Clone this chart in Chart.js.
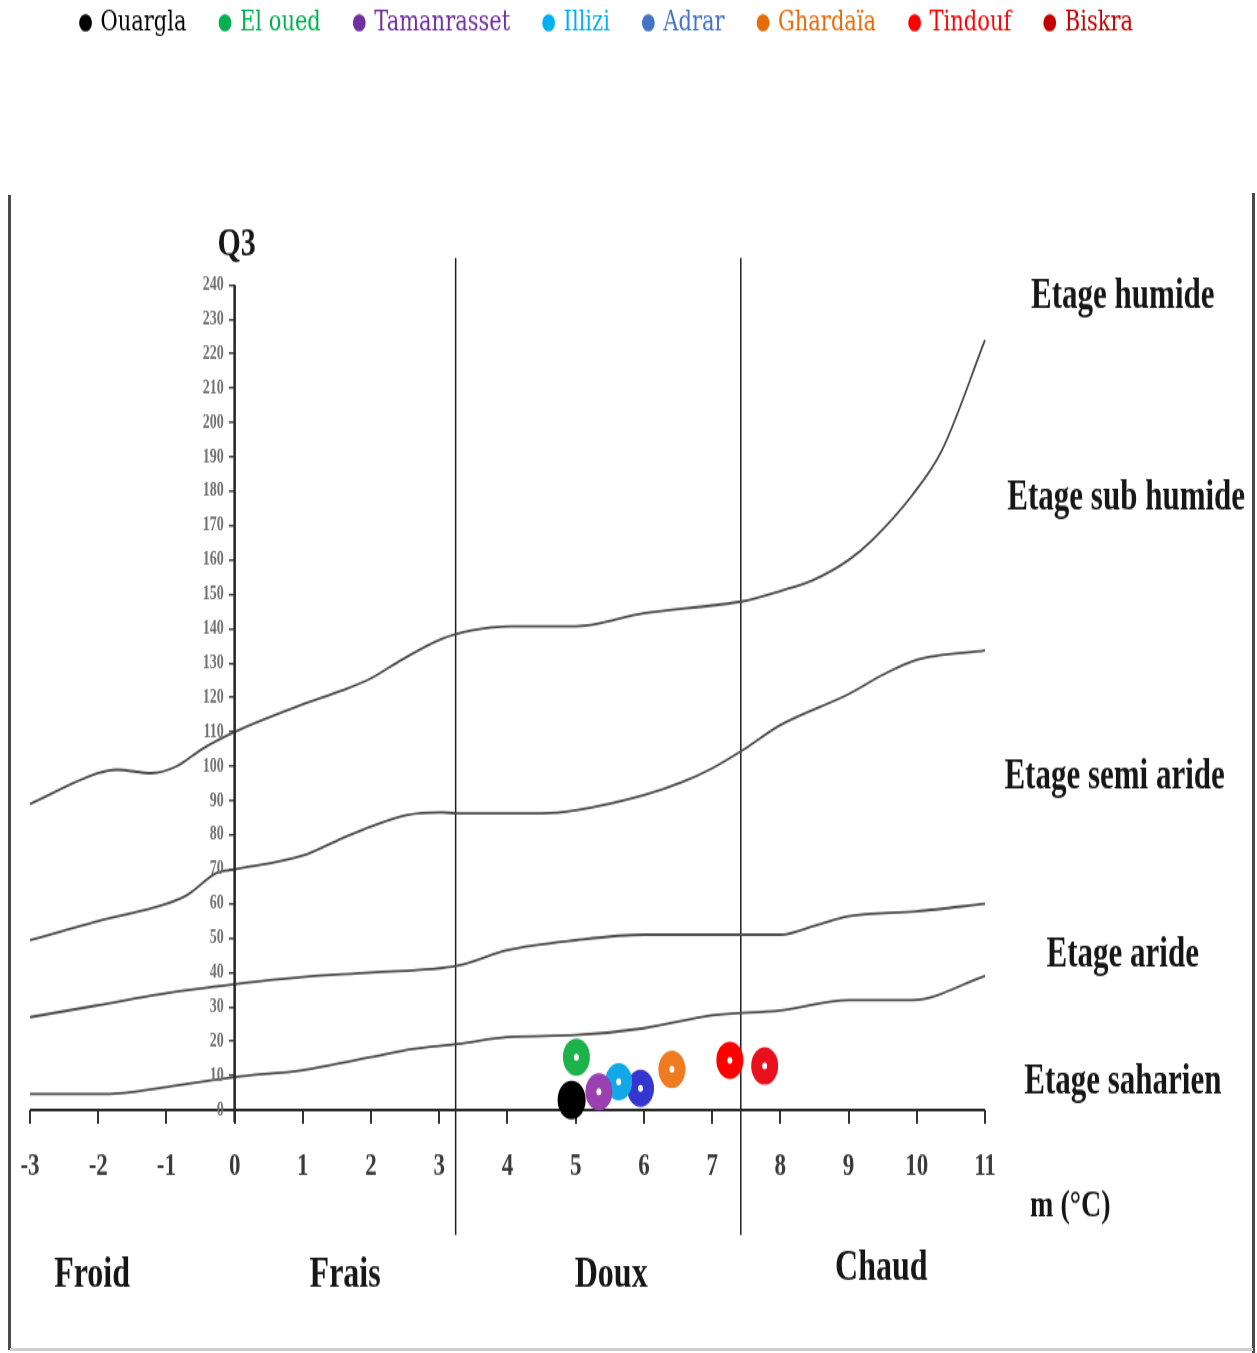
<!DOCTYPE html>
<html>
<head>
<meta charset="utf-8">
<title>Climagramme d'Emberger</title>
<script src="https://cdn.jsdelivr.net/npm/chart.js@4/dist/chart.umd.min.js"></script>
<style>
  html, body { margin: 0; padding: 0; background: #fff; }
  #wrap { position: relative; width: 1257px; height: 1353px; overflow: hidden; background: #fff; }
  /* the drawing is stretched vertically, giving the tall narrow lettering of the figure */
  #stretch { position: absolute; left: 0; top: 0; width: 1257px; height: 980px;
             transform: scaleY(1.380612); transform-origin: 0 0; }
  .frame { position: absolute; }
</style>
</head>
<body>
<div id="wrap">
  <div id="stretch"><canvas id="c" width="1257" height="980"></canvas></div>
  <div class="frame" style="left:8px;top:195px;width:3px;height:1155px;background:#4a4a4a"></div>
  <div class="frame" style="left:1252px;top:193px;width:3px;height:1160px;background:#4a4a4a"></div>
  <div class="frame" style="left:10px;top:1348px;width:1243px;height:3px;background:#cfcfcf"></div>
</div>
<script>
// ---- stations: m (°C) and Q3 ----
const stations = ['Ouargla', 'El oued', 'Tamanrasset', 'Illizi', 'Adrar', 'Ghardaïa', 'Tindouf', 'Biskra'];
const stationM  = [4.94, 5.01, 5.34, 5.63, 5.95, 6.41, 7.26, 7.77];
const stationQ3 = [2.9, 15.4, 5.3, 8.2, 6.3, 11.8, 14.5, 12.8];

// ---- limits between bioclimatic stages ----
const humideM  = [-3, -2, -1.73, -1.22, -0.85, -0.48, 0, 1, 1.57, 2, 2.45, 3.03, 3.47, 4.06, 5, 6, 7, 7.45, 8, 8.46, 9, 9.34, 9.93, 10.37, 11];
const humideQ3 = [89, 98, 99, 98, 100, 105, 110, 118, 122, 125.6, 131, 137, 139.5, 140.7, 140.7, 144.5, 146.8, 148, 151, 154, 160, 165.7, 178.8, 192, 224];

const subHumideM  = [-3, -2, -1, -0.7, -0.26, 0, 1, 1.57, 2, 2.52, 3.03, 3.27, 4.5, 5, 6, 6.55, 7, 7.45, 8, 9, 9.49, 10, 11];
const subHumideQ3 = [49.4, 55, 60, 62.5, 69, 70, 74, 79, 82.5, 85.8, 86.6, 86.3, 86.3, 87.2, 91.6, 95.3, 99.4, 104.7, 112, 121, 126.5, 131, 133.7];

const semiArideM  = [-3, -2, -1, 0, 1, 2, 3.27, 4, 5, 6, 7, 8, 8.53, 9, 10, 11];
const semiArideQ3 = [27, 30.5, 34, 36.6, 38.7, 40, 42, 46.5, 49.4, 51, 51, 51, 53.8, 56.4, 57.8, 60];

const arideM  = [-3, -1.88, -1, 0, 1, 2, 2.6, 3.27, 4, 5, 6, 7, 8, 9, 9.93, 11];
const arideQ3 = [4.7, 4.7, 6.7, 9.6, 11.6, 15.4, 17.7, 19.2, 21.2, 21.8, 23.8, 27.6, 29, 32, 32, 39];

// ---- thermal variants (Froid / Frais / Doux / Chaud) ----
const variantLimits = [3.24, 7.42];
const variantLineQ3 = [-36.4, 247.9];

// ---- axes ----
const xTickValues = [-3, -2, -1, 0, 1, 2, 3, 4, 5, 6, 7, 8, 9, 10, 11];
const yTickValues = [0, 10, 20, 30, 40, 50, 60, 70, 80, 90, 100, 110, 120, 130, 140, 150, 160, 170, 180, 190, 200, 210, 220, 230, 240];
const xAxisExtent = [-3, 11];
const yAxisExtent = [-3.5, 240];

// ---- text labels: [text, m, Q3] ----
const stageLabels = [
  ['Etage humide', 13.02, 236.5],
  ['Etage sub humide', 13.07, 178],
  ['Etage semi aride', 12.9, 96.9],
  ['Etage aride', 13.02, 44.8],
  ['Etage saharien', 13.02, 8.1]
];
const variantLabels = [
  ['Froid', -2.09, -48],
  ['Frais', 1.62, -48],
  ['Doux', 5.52, -48],
  ['Chaud', 9.48, -46]
];
const axisTitles = [
  ['Q3', 0.03, 251.6],
  ['m (°C)', 12.25, -28.2]
];

// ---- styles ----
const pointColors  = ['#000000', '#1db34a', '#9b40b0', '#12a8e8', '#3535d0', '#f07a20', '#ff0000', '#e8101c'];
const legendColors = ['#000000', '#00b050', '#7030a0', '#00b0f0', '#4472c4', '#e46c0a', '#ff0000', '#c00000'];
const curveColor = '#4d4d4d';
const S = 1353 / 980;

const xy = (xs, ys) => xs.map((x, i) => ({ x: x, y: ys[i] }));

const datasets = [];
stations.forEach((name, i) => {
  const solid = i === 0;
  datasets.push({
    label: name,
    data: [{ x: stationM[i], y: stationQ3[i] }],
    showLine: false,
    pointStyle: 'circle',
    pointRadius: solid ? 9 : 8,
    pointBorderWidth: solid ? 10 : 11,
    pointBackgroundColor: solid ? pointColors[i] : '#ffffff',
    pointBorderColor: pointColors[i],
    order: 1
  });
});

function curve(label, xs, ys) {
  return {
    label: label, data: xy(xs, ys), showLine: true, borderColor: curveColor,
    borderWidth: 1.8, pointRadius: 0, cubicInterpolationMode: 'monotone', fill: false, order: 5
  };
}
datasets.push(curve('humide', humideM, humideQ3));
datasets.push(curve('subhumide', subHumideM, subHumideQ3));
datasets.push(curve('semiaride', semiArideM, semiArideQ3));
datasets.push(curve('aride', arideM, arideQ3));

variantLimits.forEach((m, k) => {
  datasets.push({
    label: 'variante' + k, data: variantLineQ3.map(q => ({ x: m, y: q })), showLine: true,
    borderColor: '#1e1e1e', borderWidth: 1.5, pointRadius: 0, order: 6
  });
});
datasets.push({
  label: 'axeX', data: xAxisExtent.map(m => ({ x: m, y: 0 })), showLine: true,
  borderColor: '#2a2a2a', borderWidth: 2.2, pointRadius: 0, order: 4
});
datasets.push({
  label: 'axeY', data: yAxisExtent.map(q => ({ x: 0, y: q })), showLine: true,
  borderColor: '#2a2a2a', borderWidth: 2.6, pointRadius: 0, order: 4
});

const textPlugin = {
  id: 'textLabels',
  afterDraw(chart) {
    const { ctx, scales } = chart;
    const put = (list, font) => {
      ctx.save();
      ctx.font = font;
      ctx.fillStyle = '#161616';
      ctx.textAlign = 'center';
      ctx.textBaseline = 'middle';
      list.forEach(([t, m, q]) => ctx.fillText(t, scales.x.getPixelForValue(m), scales.y.getPixelForValue(q)));
      ctx.restore();
    };
    put(stageLabels, 'bold 31px "Liberation Serif"');
    put(variantLabels, 'bold 32px "Liberation Serif"');
    put([axisTitles[0]], 'bold 30px "Liberation Serif"');
    put([axisTitles[1]], 'bold 28px "Liberation Serif"');

    // Q3 tick labels, set to the left of the tick marks of the axis at m = 0
    const axisX = scales.x.getPixelForValue(0);
    ctx.save();
    ctx.font = 'bold 14px "Liberation Serif"';
    ctx.fillStyle = '#707070';
    ctx.textAlign = 'right';
    ctx.textBaseline = 'middle';
    scales.y.ticks.forEach(t => ctx.fillText(String(t.value), axisX - 11, scales.y.getPixelForValue(t.value)));
    ctx.restore();
  }
};

const chart = new Chart(document.getElementById('c'), {
  type: 'scatter',
  data: { datasets: datasets },
  plugins: [textPlugin],
  options: {
    responsive: false,
    animation: false,
    events: [],
    layout: { padding: { top: -28, left: 0, right: 43, bottom: 0 } },
    plugins: {
      tooltip: { enabled: false },
      legend: {
        display: true,
        position: 'top',
        align: 'center',
        labels: {
          usePointStyle: true,
          boxWidth: 9,
          boxHeight: 9,
          padding: 34,
          font: { family: '"DejaVu Serif"', size: 21 },
          generateLabels: () => stations.map((name, i) => ({
            text: name, fillStyle: legendColors[i], strokeStyle: legendColors[i], lineWidth: 0,
            pointStyle: 'circle', fontColor: legendColors[i], hidden: false, datasetIndex: i
          }))
        }
      }
    },
    scales: {
      x: {
        type: 'linear', min: -3.44, max: 14.36, position: { y: 0 },
        afterBuildTicks: ax => { ax.ticks = xTickValues.map(v => ({ value: v })); },
        ticks: { font: { family: '"Liberation Serif"', size: 23, weight: 'bold' }, color: '#3a3a3a', padding: 17,
                 autoSkip: false, maxRotation: 0, callback: v => String(v) },
        grid: { display: true, drawOnChartArea: false, drawTicks: true, tickLength: 10, color: '#333', lineWidth: 2 },
        border: { display: false }
      },
      y: {
        type: 'linear', min: -40, max: 300, position: { x: 0 },
        afterBuildTicks: ax => { ax.ticks = yTickValues.map(v => ({ value: v })); },
        ticks: { display: false },
        grid: { display: true, drawOnChartArea: false, drawTicks: true, tickLength: 6, color: '#444', lineWidth: 1.5 },
        border: { display: false }
      }
    }
  }
});

// anchor the value scales to the figure frame: m=-3 / 11 and Q3=0 / 240
function anchorScales() {
  const a = chart.chartArea;
  const kx = (985 - 30) / 14;
  const ky = (1110 - 285) / S / 240;
  chart.options.scales.x.min = -3 - (30 - a.left) / kx;
  chart.options.scales.x.max = 11 + (a.right - 985) / kx;
  chart.options.scales.y.max = 240 + (285 / S - a.top) / ky;
  chart.options.scales.y.min = -(a.bottom - 1110 / S) / ky;
  chart.update('none');
}
anchorScales();
anchorScales();
</script>
</body>
</html>
